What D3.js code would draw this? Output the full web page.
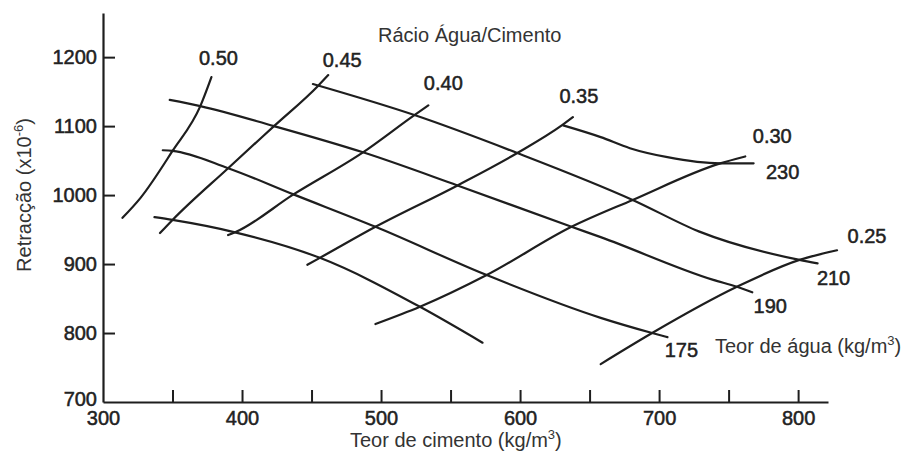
<!DOCTYPE html>
<html>
  <head>
    <meta charset="utf-8">
    <title>Retracção</title>
    <script src="https://d3js.org/d3.v7.min.js"></script>
    <style>
      body { margin: 0; background: #fff; }
      text { font-family: "Liberation Sans", Arial, sans-serif; }
    </style>
  </head>
  <body>

    <svg id="grafico" width="912" height="452"></svg>

    <script>
    // valores (teor de cimento kg/m3, retracção x10^-6)
    // linhas de rácio água/cimento
    let ratioLabels = ["0.50", "0.45", "0.40", "0.35", "0.30", "0.25"];
    let r050 = [[314, 967], [327, 996], [350, 1064], [370, 1129], [378, 1171]];
    let r045 = [[341, 945], [350, 964], [390, 1039], [423, 1100], [455, 1159], [462, 1174]];
    let r040 = [[390, 942], [395, 946], [437, 1001], [487, 1062], [524, 1116], [534, 1130]];
    let r035 = [[447, 899], [456, 909], [496, 954], [555, 1014], [598, 1061], [630, 1101], [638, 1113]];
    let r030 = [[496, 813], [528, 838], [576, 884], [637, 954], [681, 993], [744, 1046], [762, 1056]];
    let r025 = [[658, 755], [695, 800], [756, 867], [801, 906], [828, 920]];

    // linhas de teor de água
    let waterLabels = ["230", "210", "190", "175", ""];
    let w230 = [[631, 1101], [658, 1084], [679, 1068], [706, 1055], [744, 1046], [768, 1046]];
    let w210 = [[451, 1161], [524, 1116], [598, 1061], [681, 993], [729, 947], [801, 906], [814, 901]];
    let w190 = [[348, 1138], [370, 1129], [423, 1100], [487, 1062], [555, 1014], [637, 954], [658, 939], [739, 877], [756, 867], [767, 859]];
    let w175 = [[343, 1065], [350, 1064], [390, 1039], [437, 1001], [496, 954], [576, 884], [658, 822], [695, 800], [706, 794]];
    let wLow = [[337, 968], [350, 964], [395, 946], [456, 909], [528, 838], [573, 786]];

    // eixos
    let xTicks = [300, 350, 400, 450, 500, 550, 600, 650, 700, 750, 800];
    let yTicks = [700, 800, 900, 1000, 1100, 1200];

    let svg = d3.select("#grafico");
    let ink = "#1e1e1e";

    let x = d3.scaleLinear().domain([300, 821.5]).range([103, 828]);
    let y = d3.scaleLinear().domain([700, 1264]).range([402, 13]);

    let line = d3.line()
      .x(d => x(d[0]))
      .y(d => y(d[1]))
      .curve(d3.curveMonotoneX);

    // eixo x
    let gx = svg.append("g")
      .attr("transform", "translate(0," + y(700) + ")")
      .call(d3.axisBottom(x)
        .tickValues(xTicks)
        .tickSize(-12)
        .tickSizeOuter(0)
        .tickPadding(9)
        .tickFormat(d => d % 100 === 0 ? d : ""));

    // eixo y
    let gy = svg.append("g")
      .attr("transform", "translate(" + x(300) + ",0)")
      .call(d3.axisLeft(y)
        .tickValues(yTicks)
        .tickSize(-12)
        .tickSizeOuter(0)
        .tickPadding(6)
        .tickFormat(d3.format("d")));

    [gx, gy].forEach(function(g){
      g.select(".domain").attr("stroke", ink).attr("stroke-width", 2.2);
      g.selectAll(".tick line").attr("stroke", ink).attr("stroke-width", 2);
      g.selectAll(".tick text")
        .attr("fill", "#222")
        .attr("stroke", "#222")
        .attr("stroke-width", 0.5)
        .style("font-size", "20px");
    });
    gx.selectAll(".tick").filter(d => d === 300).select("line").remove();
    let t700 = gy.selectAll(".tick").filter(d => d === 700);
    t700.select("line").remove();
    t700.select("text").attr("y", -3);

    // curvas
    let ratioLines = [r050, r045, r040, r035, r030, r025];
    let waterLines = [w230, w210, w190, w175, wLow];

    svg.append("g")
      .selectAll("path")
      .data(ratioLines.concat(waterLines))
      .enter()
      .append("path")
      .attr("d", line)
      .attr("fill", "none")
      .attr("stroke", ink)
      .attr("stroke-width", 2.2)
      .attr("stroke-linecap", "round");

    // rótulos junto ao fim de cada curva
    let ratioOffsets = [[7, -19], [14, -15], [15, -22], [6, -21], [27, -20], [30, -14]];
    let waterOffsets = [[29, 9], [16, 15], [18, 14], [14, 13], [0, 0]];

    function labels(lines, names, offsets){
      svg.append("g")
        .selectAll("text")
        .data(lines)
        .enter()
        .append("text")
        .attr("x", (d, i) => x(d[d.length - 1][0]) + offsets[i][0])
        .attr("y", (d, i) => y(d[d.length - 1][1]) + offsets[i][1])
        .attr("text-anchor", "middle")
        .attr("dominant-baseline", "central")
        .attr("fill", "#222")
        .attr("stroke", "#222")
        .attr("stroke-width", 0.5)
        .style("font-size", "20px")
        .text((d, i) => names[i]);
    }
    labels(ratioLines, ratioLabels, ratioOffsets);
    labels(waterLines, waterLabels, waterOffsets);

    // títulos
    svg.append("text")
      .attr("x", 378).attr("y", 42)
      .attr("fill", "#333")
      .style("font-size", "20px")
      .text("Rácio Água/Cimento");

    let tx = svg.append("text")
      .attr("x", 350).attr("y", 447)
      .attr("fill", "#333")
      .style("font-size", "20px");
    tx.append("tspan").text("Teor de cimento (kg/m");
    tx.append("tspan").attr("dy", -8).style("font-size", "13px").text("3");
    tx.append("tspan").attr("dy", 8).text(")");

    let tw = svg.append("text")
      .attr("x", 715).attr("y", 353)
      .attr("fill", "#333")
      .style("font-size", "20px");
    tw.append("tspan").text("Teor de água (kg/m");
    tw.append("tspan").attr("dy", -8).style("font-size", "13px").text("3");
    tw.append("tspan").attr("dy", 8).text(")");

    let ty = svg.append("text")
      .attr("transform", "translate(31,195) rotate(-90)")
      .attr("text-anchor", "middle")
      .attr("fill", "#333")
      .style("font-size", "20px");
    ty.append("tspan").text("Retracção (x10");
    ty.append("tspan").attr("dy", -8).style("font-size", "13px").text("-6");
    ty.append("tspan").attr("dy", 8).text(")");
    </script>

  </body>
</html>
